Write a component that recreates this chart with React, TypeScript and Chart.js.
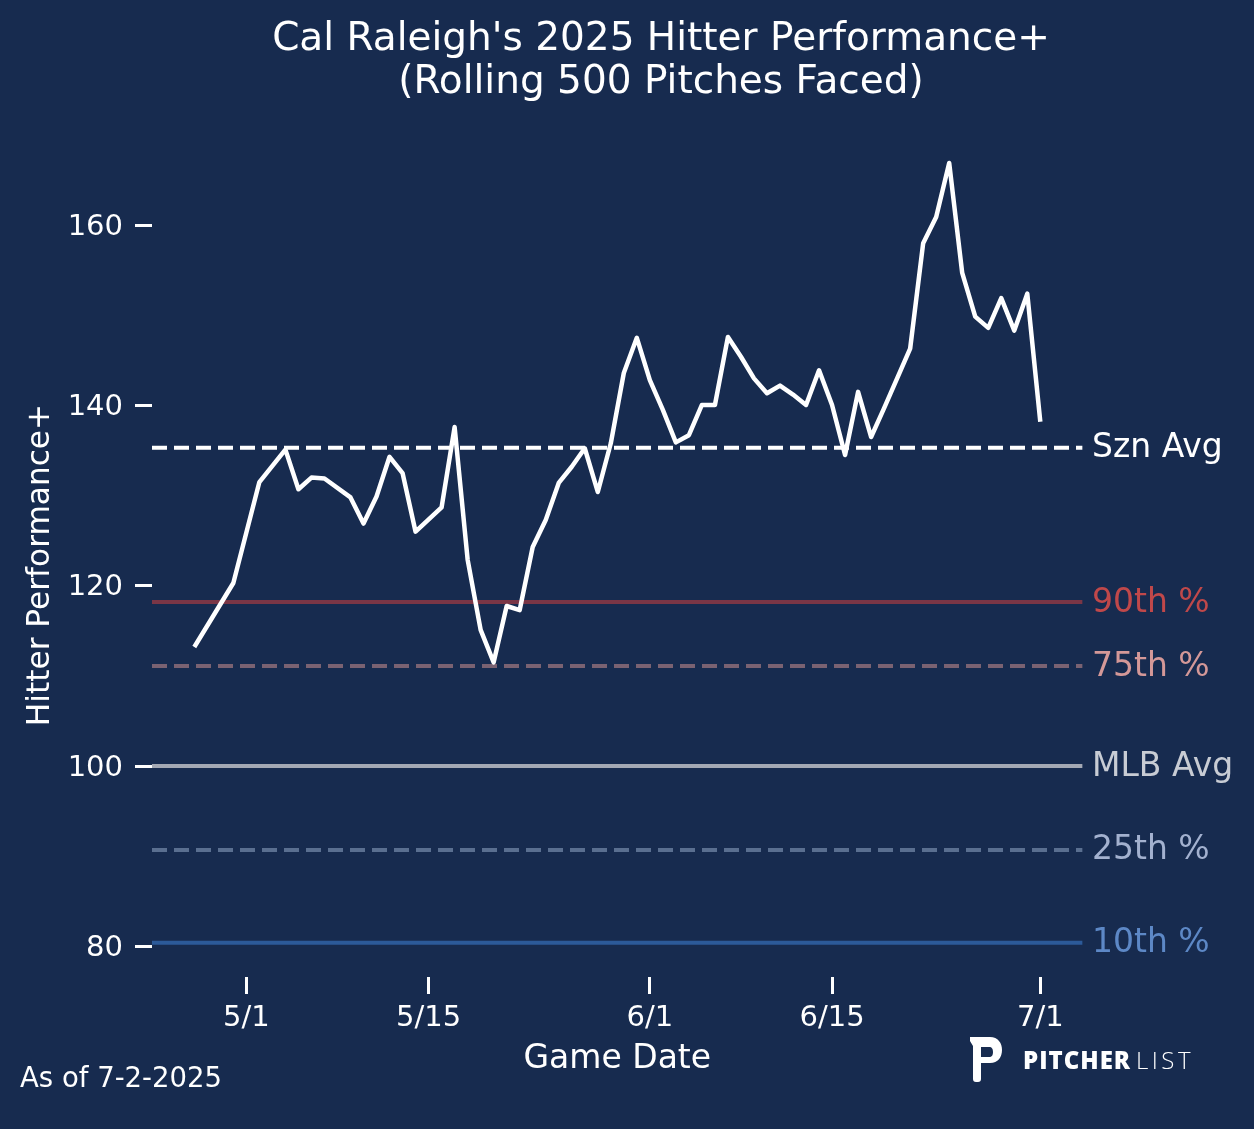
import React, { useEffect, useRef } from 'react';
import { Chart, registerables } from 'chart.js';

Chart.register(...registerables);

const W = 1254;
const H = 1129;
const BG = '#172b4f';
const FONT = "'DejaVu Sans', sans-serif";

// Days counted from May 1 (5/1 = 0)
const gameDays = [
  -4, -1, 1, 2, 3, 4, 5, 6, 8, 9, 10, 11, 12, 13,
  15, 16, 17, 18, 19, 20, 21, 22, 23, 24, 25, 26, 27, 28, 29, 30,
  31, 32, 33, 34, 35, 36, 37, 38, 39, 40, 41, 42, 43, 44, 45, 46,
  47, 48, 49, 50, 51, 52, 53, 54, 55, 56, 57, 58, 59, 60, 61,
];
const hitterPerf = [
  113.2, 120.3, 131.5, 133.3, 135.1, 130.7, 132.0, 131.9, 129.8, 126.9, 129.9, 134.3, 132.5, 126.0,
  128.7, 137.6, 122.9, 115.1, 111.5, 117.75, 117.3, 124.3, 127.3, 131.4, 133.2, 135.25, 130.4, 135.8, 143.6, 147.5,
  142.8, 139.5, 135.9, 136.7, 140.05, 140.05, 147.6, 145.4, 143.0, 141.35, 142.2, 141.2, 140.05, 143.9, 140.05, 134.5,
  141.5, 136.5, 139.7, 143.0, 146.3, 158.0, 160.9, 166.9, 154.7, 149.85, 148.6, 151.9, 148.3, 152.4, 138.2,
];

const refLabels = ['Szn Avg', '90th %', '75th %', 'MLB Avg', '25th %', '10th %'];
const refValues = [135.3, 118.2, 111.1, 100, 90.7, 80.4];
const refLineColors = ['#ffffff', '#7a3646', '#7a6272', '#a3a8b4', '#5a6f90', '#2c5a99'];
const refTextColors = ['#ffffff', '#c0484a', '#d49898', '#c8ccd4', '#a3b1cf', '#5d88c6'];
const refDashed = [true, false, true, false, true, false];

const xTicks = [0, 14, 31, 45, 61];
const xTickLabels = ['5/1', '5/15', '6/1', '6/15', '7/1'];
const yTicks = [80, 100, 120, 140, 160];

const X_MIN = -7.25;
const X_MAX = 64.25;
const Y_MIN = 76.6;
const Y_MAX = 168.0;

const textPlugin = {
  id: 'texts',
  beforeDraw(chart: any) {
    const ctx = chart.ctx;
    ctx.save();
    ctx.fillStyle = BG;
    ctx.fillRect(0, 0, chart.width, chart.height);
    ctx.restore();
  },
  afterDraw(chart: any) {
    const ctx = chart.ctx;
    const ys = chart.scales.y;
    const area = chart.chartArea;
    ctx.save();
    ctx.fillStyle = '#ffffff';
    ctx.textAlign = 'center';
    ctx.textBaseline = 'alphabetic';
    ctx.font = `39px ${FONT}`;
    ctx.fillText("Cal Raleigh's 2025 Hitter Performance+", 661, 50);
    ctx.fillText('(Rolling 500 Pitches Faced)', 661, 93);

    // axis titles
    ctx.font = `33px ${FONT}`;
    ctx.fillText('Game Date', (area.left + area.right) / 2, 1068);
    ctx.font = `31.2px ${FONT}`;
    ctx.save();
    ctx.translate(49, (area.top + area.bottom) / 2);
    ctx.rotate(-Math.PI / 2);
    ctx.fillText('Hitter Performance+', 0, 0);
    ctx.restore();

    // reference labels
    ctx.textAlign = 'left';
    ctx.textBaseline = 'middle';
    ctx.font = `33px ${FONT}`;
    refLabels.forEach((lab, i) => {
      ctx.fillStyle = refTextColors[i];
      ctx.fillText(lab, 1092, ys.getPixelForValue(refValues[i]) + 1);
    });

    // footnote
    ctx.fillStyle = '#ffffff';
    ctx.textBaseline = 'alphabetic';
    ctx.font = `27.5px ${FONT}`;
    ctx.fillText('As of 7-2-2025', 20, 1087);

    // logo icon
    ctx.beginPath();
    ctx.moveTo(970, 1037);
    ctx.lineTo(990, 1037);
    ctx.bezierCurveTo(998, 1037, 1002, 1043, 1002, 1050);
    ctx.bezierCurveTo(1002, 1057, 998, 1063, 990, 1063);
    ctx.lineTo(981, 1063);
    ctx.lineTo(981, 1079);
    ctx.quadraticCurveTo(981, 1082, 978, 1082);
    ctx.lineTo(976, 1082);
    ctx.quadraticCurveTo(973, 1082, 973, 1079);
    ctx.lineTo(973, 1046);
    ctx.lineTo(970, 1041);
    ctx.closePath();
    ctx.moveTo(981, 1047);
    ctx.lineTo(989, 1047);
    ctx.bezierCurveTo(992, 1047, 993, 1049, 993, 1052);
    ctx.bezierCurveTo(993, 1055, 992, 1057, 989, 1057);
    ctx.lineTo(981, 1057);
    ctx.closePath();
    ctx.fill('evenodd');

    // logo text
    ctx.font = `800 24px 'Open Sans', sans-serif`;
    (ctx as any).letterSpacing = '1px';
    ctx.fillText('PITCHER', 1023, 1069);
    ctx.font = `300 24px 'Open Sans', sans-serif`;
    (ctx as any).letterSpacing = '3.5px';
    ctx.fillText('LIST', 1136, 1069);
    (ctx as any).letterSpacing = '0px';
    ctx.restore();
  },
};

export default function App() {
  const ref = useRef<HTMLCanvasElement | null>(null);

  useEffect(() => {
    if (!ref.current) return;
    const refDatasets = refValues.map((v, i) => ({
      label: refLabels[i],
      data: [
        { x: X_MIN, y: v },
        { x: X_MAX, y: v },
      ],
      borderColor: refLineColors[i],
      borderWidth: 4,
      borderDash: refDashed[i] ? [15, 7] : [],
      borderCapStyle: 'butt' as const,
      pointRadius: 0,
      order: 2,
    }));
    const chart = new Chart(ref.current, {
      type: 'line',
      data: {
        datasets: [
          {
            label: 'Hitter Performance+',
            data: gameDays.map((d, i) => ({ x: d, y: hitterPerf[i] })),
            borderColor: '#ffffff',
            borderWidth: 4.5,
            pointRadius: 0,
            tension: 0,
            borderJoinStyle: 'round',
            borderCapStyle: 'butt',
            order: 0,
          },
          ...refDatasets,
        ],
      },
      options: {
        animation: false,
        responsive: false,
        devicePixelRatio: 1,
        layout: { padding: { top: 153, right: W - 1082.6, left: 0, bottom: 0 } },
        plugins: {
          legend: { display: false },
          tooltip: { enabled: false },
          title: { display: false },
        },
        scales: {
          x: {
            type: 'linear',
            min: X_MIN,
            max: X_MAX,
            afterBuildTicks: (s: any) => {
              s.ticks = xTicks.map((v) => ({ value: v }));
            },
            afterFit: (s: any) => {
              s.height = H - 977;
            },
            ticks: {
              autoSkip: false,
              maxRotation: 0,
              color: '#ffffff',
              padding: 7,
              font: { family: FONT, size: 29 },
              callback: (_v: any, i: number) => xTickLabels[i],
            },
            grid: {
              drawOnChartArea: false,
              drawTicks: true,
              tickLength: 17,
              tickColor: '#ffffff',
              tickWidth: 3,
            },
            border: { display: false },
          },
          y: {
            type: 'linear',
            min: Y_MIN,
            max: Y_MAX,
            afterBuildTicks: (s: any) => {
              s.ticks = yTicks.map((v) => ({ value: v }));
            },
            afterFit: (s: any) => {
              s.width = 152;
            },
            ticks: {
              color: '#ffffff',
              padding: 12,
              labelOffset: 2,
              font: { family: FONT, size: 29 },
              callback: (v: any) => String(v),
            },
            grid: {
              drawOnChartArea: false,
              drawTicks: true,
              tickLength: 17,
              tickColor: '#ffffff',
              tickWidth: 3,
            },
            border: { display: false },
          },
        },
      },
      plugins: [textPlugin],
    });
    return () => chart.destroy();
  }, []);

  return (
    <div style={{ position: 'fixed', left: 0, top: 0, width: W, height: H, background: BG }}>
      <canvas ref={ref} width={W} height={H} style={{ width: W, height: H, display: 'block' }} />
    </div>
  );
}
